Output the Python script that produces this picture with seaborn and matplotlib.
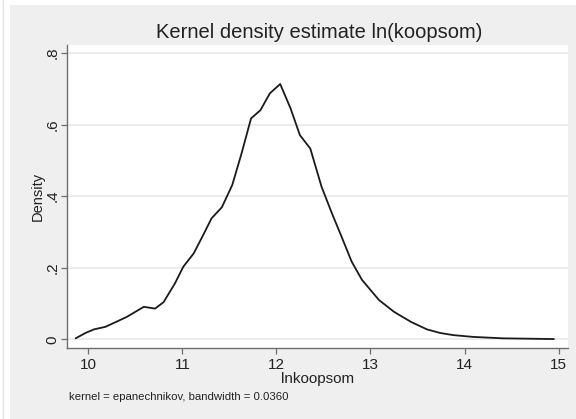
import matplotlib
matplotlib.use("Agg")
import matplotlib.pyplot as plt
import seaborn as sns
import pandas as pd
from matplotlib.patches import Rectangle

# Data (x = ln(koopsom), y = density)
lnkoopsom = [9.865, 9.97, 10.06, 10.18, 10.28, 10.41, 10.50, 10.59, 10.71, 10.80,
             10.92, 11.01, 11.12, 11.23, 11.31, 11.42, 11.53, 11.63, 11.73, 11.83,
             11.93, 12.04, 12.15, 12.25, 12.36, 12.48, 12.59, 12.70, 12.80, 12.91,
             13.09, 13.25, 13.43, 13.60, 13.74, 13.88, 14.09, 14.41, 14.95]
density = [0.003, 0.018, 0.028, 0.035, 0.047, 0.063, 0.077, 0.091, 0.086, 0.104,
           0.156, 0.203, 0.240, 0.296, 0.338, 0.369, 0.431, 0.520, 0.617, 0.640,
           0.687, 0.713, 0.645, 0.570, 0.533, 0.426, 0.352, 0.282, 0.217, 0.166,
           0.110, 0.077, 0.049, 0.028, 0.018, 0.012, 0.007, 0.003, 0.001]
x_ticks = [10, 11, 12, 13, 14, 15]
x_ticklabels = ["10", "11", "12", "13", "14", "15"]
y_ticks = [0, 0.2, 0.4, 0.6, 0.8]
y_ticklabels = ["0", ".2", ".4", ".6", ".8"]

df = pd.DataFrame({"lnkoopsom": lnkoopsom, "Density": density})

sns.set_theme(style="white")
plt.rcParams["font.family"] = ["Liberation Sans", "DejaVu Sans"]

W, H = 576, 419
fig = plt.figure(figsize=(W / 100, H / 100), dpi=100)
fig.patch.set_facecolor("white")

# Stata-like graph region (background axes)
bg = fig.add_axes([0, 0, 1, 1], zorder=-10)
bg.set_xlim(0, W)
bg.set_ylim(H, 0)
bg.axis("off")
bg.add_patch(Rectangle((10, 5), W - 10, H - 5, facecolor="#efefef", edgecolor="none"))
bg.plot([3, 3], [0, H], color="#e4e4e4", lw=1.0)

left, right, top, bottom = 66.7, 568, 45, 348
ax = fig.add_axes([left / W, (H - bottom) / H, (right - left) / W, (bottom - top) / H])
ax.set_facecolor("white")

sns.lineplot(data=df, x="lnkoopsom", y="Density", ax=ax, color="#1a1a1a",
             linewidth=1.3, sort=False)

ax.set_xlim(9.77, 15.10)
ax.set_ylim(-0.024, 0.822)
ax.set_xticks(x_ticks)
ax.set_xticklabels(x_ticklabels, fontsize=11, color="#222222")
ax.set_yticks(y_ticks)
ax.set_yticklabels(y_ticklabels, fontsize=11, color="#222222", rotation=90, va="center")
ax.yaxis.grid(True, color="#eaeaea", lw=1.3)
ax.xaxis.grid(False)
ax.set_axisbelow(True)

for side in ["top", "right"]:
    ax.spines[side].set_visible(False)
for side in ["left", "bottom"]:
    ax.spines[side].set_color("#6e6e6e")
    ax.spines[side].set_linewidth(1.0)
ax.tick_params(axis="both", which="major", length=4, width=0.9, color="#6e6e6e",
               direction="out", left=True, bottom=True)
ax.tick_params(axis="x", pad=3)
ax.tick_params(axis="y", pad=1)

ax.set_xlabel("lnkoopsom", fontsize=11, color="#222222", labelpad=0)
ax.set_ylabel("Density", fontsize=10.5, color="#222222", labelpad=1)

fig.text(319 / W, 1 - 33 / H, "Kernel density estimate ln(koopsom)",
         ha="center", va="center", fontsize=14.5, color="#222222")
fig.text(69 / W, 1 - 397 / H, "kernel = epanechnikov, bandwidth = 0.0360",
         ha="left", va="center", fontsize=8.2, color="#222222")

fig.savefig("out.png", dpi=100)
